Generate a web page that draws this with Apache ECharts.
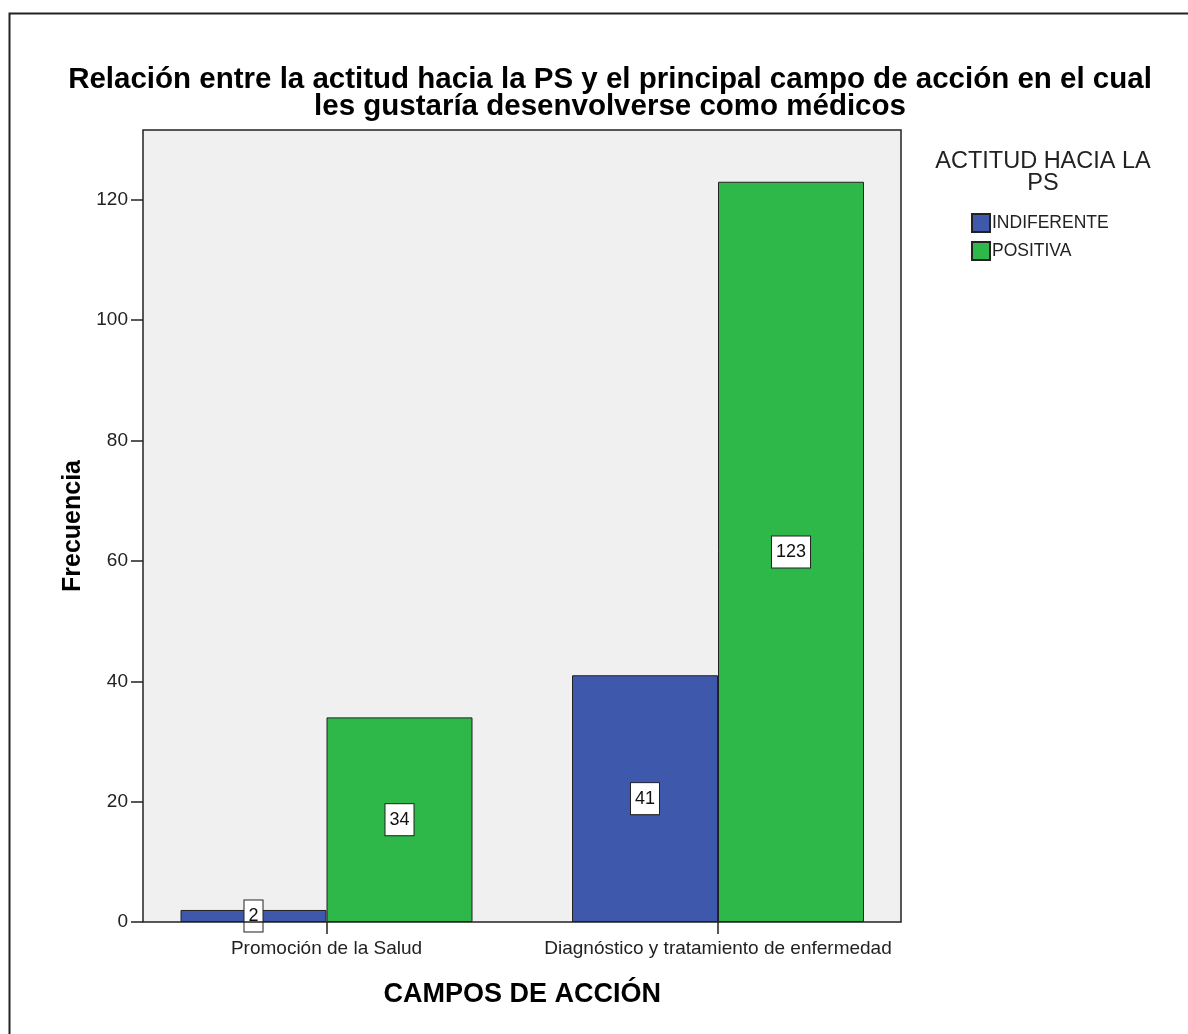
<!DOCTYPE html>
<html>
<head>
<meta charset="utf-8">
<script src="https://cdn.jsdelivr.net/npm/echarts@6/dist/echarts.min.js"></script>
<style>
  html, body { margin: 0; padding: 0; background: #fff; }
  #chart { width: 1188px; height: 1034px; }
</style>
</head>
<body>
<div id="chart"></div>
<script>
// Campos de acción (categories) and frequency per attitude group
const categories = ['Promoción de la Salud', 'Diagnóstico y tratamiento de enfermedad'];
const indiferente = [2, 41];
const positiva = [34, 123];
const yTicks = [0, 20, 40, 60, 80, 100, 120];

const FONT = '"Liberation Sans", Arial, sans-serif';

// Plot frame (pixels)
const frame = { x: 143, y: 130, w: 758, h: 792 };
// Category bands are wider than the frame so the outer margins are narrower than the inner gap
const gridLeft = 130.75, gridRight = 1188 - 913.75;

const chart = echarts.init(document.getElementById('chart'), null, { renderer: 'canvas' });

const labelStyle = {
  show: true,
  position: 'inside',
  color: '#111',
  fontFamily: FONT,
  fontSize: 18,
  backgroundColor: '#fff',
  borderColor: '#222',
  borderWidth: 1,
  padding: [6, 4, 5, 4],
  lineHeight: 20
};

chart.setOption({
  animation: false,
  backgroundColor: '#fff',
  title: [
    {
      text: 'Relación entre la actitud hacia la PS y el principal campo de acción en el cual\nles gustaría desenvolverse como médicos',
      left: 605,
      top: 61,
      textAlign: 'center',
      textStyle: { fontFamily: FONT, fontSize: 29.5, fontWeight: 'bold', color: '#000', lineHeight: 27 }
    },
    {
      text: 'ACTITUD HACIA LA\nPS',
      left: 1038,
      top: 146,
      textAlign: 'center',
      textStyle: { fontFamily: FONT, fontSize: 23.5, fontWeight: 'normal', color: '#222', lineHeight: 22 }
    }
  ],
  legend: {
    orient: 'vertical',
    left: 966,
    top: 208,
    itemWidth: 18,
    itemHeight: 18,
    itemGap: 8,
    icon: 'rect',
    textStyle: { fontFamily: FONT, fontSize: 17.5, color: '#222', padding: [0, 0, 0, -3] },
    data: ['INDIFERENTE', 'POSITIVA']
  },
  graphic: [
    {
      type: 'rect',
      z: -10,
      silent: true,
      shape: { x: frame.x, y: frame.y, width: frame.w, height: frame.h },
      style: { fill: '#f0f0f0', stroke: null }
    },
    {
      type: 'rect',
      z: 100,
      silent: true,
      shape: { x: frame.x, y: frame.y, width: frame.w, height: frame.h },
      style: { fill: 'none', stroke: '#222', lineWidth: 1.5 }
    },
    {
      type: 'rect',
      z: 100,
      silent: true,
      shape: { x: 9.5, y: 13.5, width: 1300, height: 1200 },
      style: { fill: 'none', stroke: '#222', lineWidth: 2 }
    }
  ],
  grid: {
    left: gridLeft,
    right: gridRight,
    top: frame.y,
    bottom: 1034 - (frame.y + frame.h),
    containLabel: false
  },
  xAxis: {
    type: 'category',
    data: categories,
    boundaryGap: true,
    name: 'CAMPOS DE ACCIÓN',
    nameLocation: 'middle',
    nameGap: 59,
    nameTextStyle: { fontFamily: FONT, fontSize: 27, fontWeight: 'bold', color: '#000' },
    axisLine: { show: false },
    axisTick: { show: true, alignWithLabel: true, length: 12, lineStyle: { color: '#222', width: 1.5 } },
    axisLabel: { interval: 0, margin: 17, fontFamily: FONT, fontSize: 19, color: '#222' },
    splitLine: { show: false }
  },
  yAxis: {
    type: 'value',
    min: 0,
    max: 131.6,
    interval: 20,
    offset: -(frame.x - gridLeft),
    name: 'Frecuencia',
    nameLocation: 'middle',
    nameGap: 57,
    nameTextStyle: { fontFamily: FONT, fontSize: 25, fontWeight: 'bold', color: '#000' },
    axisLine: { show: false },
    axisTick: { show: true, length: 12, customValues: yTicks, lineStyle: { color: '#222', width: 1.5 } },
    axisLabel: { margin: 15, customValues: yTicks, fontFamily: FONT, fontSize: 19, color: '#222' },
    splitLine: { show: false }
  },
  series: [
    {
      name: 'INDIFERENTE',
      type: 'bar',
      data: indiferente,
      barWidth: 146,
      barGap: '0%',
      itemStyle: { color: '#3e58ac', borderColor: '#222', borderWidth: 1 },
      label: labelStyle
    },
    {
      name: 'POSITIVA',
      type: 'bar',
      data: positiva,
      barWidth: 146,
      barGap: '0%',
      itemStyle: { color: '#2eb84a', borderColor: '#222', borderWidth: 1 },
      label: labelStyle
    }
  ]
});
</script>
</body>
</html>
